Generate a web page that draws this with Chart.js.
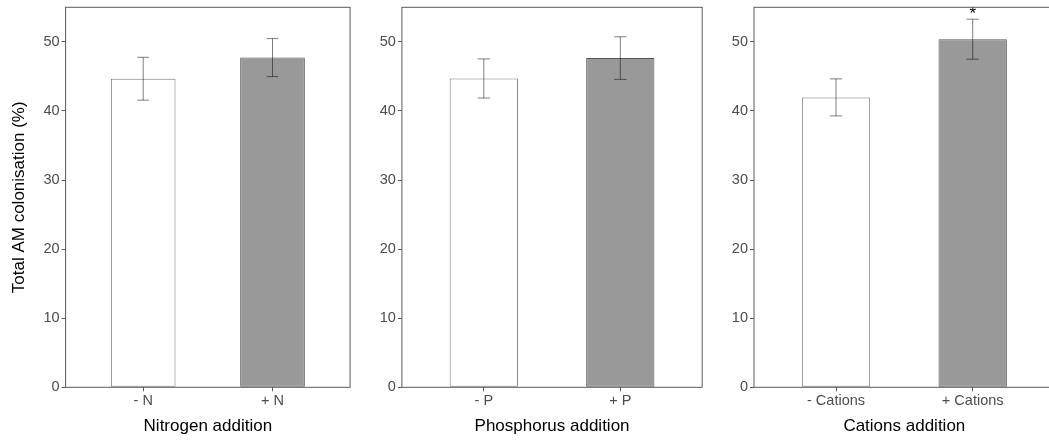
<!DOCTYPE html>
<html>
<head>
<meta charset="utf-8">
<script src="https://cdn.jsdelivr.net/npm/chart.js@4"></script>
<style>
  html, body { margin: 0; padding: 0; background: #fff; overflow: hidden; }
  body { width: 1049px; height: 443px; position: relative; }
  .pane { position: absolute; top: 0; height: 443px; }
</style>
</head>
<body>
<div class="pane" id="p1" style="left:0px;width:352px;"><canvas id="c1"></canvas></div>
<div class="pane" id="p2" style="left:352px;width:352px;"><canvas id="c2"></canvas></div>
<div class="pane" id="p3" style="left:704px;width:360px;"><canvas id="c3"></canvas></div>
<script>
// ---- data ----
const yTickValues = [0, 10, 20, 30, 40, 50];
const yAxisTitle = 'Total AM colonisation (%)';

const categoriesN = ['- N', '+ N'];
const meansN = [44.66, 47.72];
const errN = [3.1, 2.75];
const titleN = 'Nitrogen addition';
const sigN = ['', ''];

const categoriesP = ['- P', '+ P'];
const meansP = [44.7, 47.65];
const errP = [2.83, 3.08];
const titleP = 'Phosphorus addition';
const sigP = ['', ''];

const categoriesC = ['- Cations', '+ Cations'];
const meansC = [41.96, 50.38];
const errC = [2.68, 2.9];
const titleC = 'Cations addition';
const sigC = ['', '*'];

// ---- styles ----
const FONT = "'Liberation Sans', Arial, sans-serif";
const TICK_COLOR = '#4d4d4d';
const LINE_COLOR = '#5a5a5a';

const panelPlugin = {
  id: 'panelExtras',
  afterDatasetsDraw(chart, args, opts) {
    const ctx = chart.ctx;
    const xs = chart.scales.x, ys = chart.scales.y;
    const meta = chart.getDatasetMeta(0);
    ctx.save();
    ctx.strokeStyle = 'rgba(0,0,0,0.5)';
    ctx.lineWidth = 1;
    meta.data.forEach((el, i) => {
      const xv = i + 1;
      const m = opts.means[i], e = opts.errs[i];
      const px = el.x;
      const yt = ys.getPixelForValue(m + e);
      const yb = ys.getPixelForValue(m - e);
      const half = (xs.getPixelForValue(xv + 0.045) - xs.getPixelForValue(xv - 0.045)) / 2;
      ctx.beginPath();
      ctx.moveTo(px, yt); ctx.lineTo(px, yb);
      ctx.moveTo(px - half, yt); ctx.lineTo(px + half, yt);
      ctx.moveTo(px - half, yb); ctx.lineTo(px + half, yb);
      ctx.stroke();
      if (opts.sig[i]) {
        ctx.fillStyle = '#000';
        ctx.font = '17px ' + FONT;
        ctx.textAlign = 'center';
        ctx.textBaseline = 'alphabetic';
        ctx.fillText(opts.sig[i], px, yt - 0.5);
      }
    });
    const a = chart.chartArea;
    ctx.strokeStyle = LINE_COLOR;
    ctx.lineWidth = 1;
    ctx.strokeRect(a.left, a.top, a.right - a.left, a.bottom - a.top);
    ctx.restore();
  }
};

function makePanel(canvasId, cats, means, errs, sig, xTitle, yWidth, padRight, showYTitle) {
  const ctx = document.getElementById(canvasId);
  new Chart(ctx, {
    type: 'bar',
    data: {
      datasets: [{
        data: means.map((v, i) => ({ x: i + 1, y: v })),
        backgroundColor: ['#ffffff', '#999999'],
        borderColor: ['#7a7a7a', '#555555'],
        borderWidth: 1,
        borderSkipped: false,
        barPercentage: 0.5,
        categoryPercentage: 1.0
      }]
    },
    options: {
      responsive: true,
      maintainAspectRatio: false,
      animation: false,
      events: [],
      layout: { padding: { top: 7.3, right: padRight, bottom: 0, left: 0 } },
      plugins: {
        legend: { display: false },
        tooltip: { enabled: false },
        panelExtras: { means: means, errs: errs, sig: sig }
      },
      scales: {
        x: {
          type: 'linear',
          min: 0.4,
          max: 2.6,
          offset: false,
          afterBuildTicks(scale) { scale.ticks = cats.map((c, i) => ({ value: i + 1 })); },
          afterFit(scale) { scale.height = 55.7; scale.paddingLeft = 0; scale.paddingRight = 0; },
          grid: { display: true, offset: false, drawOnChartArea: false, drawTicks: true, tickLength: 4, color: LINE_COLOR, tickColor: LINE_COLOR },
          border: { display: false },
          ticks: {
            autoSkip: false,
            maxRotation: 0,
            padding: 1,
            color: TICK_COLOR,
            font: { family: FONT, size: 14.5 },
            callback: (v) => cats[Math.round(v) - 1]
          },
          title: {
            display: true,
            text: xTitle,
            color: '#000',
            font: { family: FONT, size: 17 },
            padding: { top: 0, bottom: 6 }
          }
        },
        y: {
          min: 0,
          max: 55,
          afterBuildTicks(scale) { scale.ticks = yTickValues.map(v => ({ value: v })); },
          afterFit(scale) { scale.width = yWidth; scale.paddingTop = 0; scale.paddingBottom = 0; },
          grid: { display: true, offset: false, drawOnChartArea: false, drawTicks: true, tickLength: 4, color: LINE_COLOR, tickColor: LINE_COLOR },
          border: { display: false },
          ticks: {
            padding: 2,
            color: TICK_COLOR,
            font: { family: FONT, size: 14.5 }
          },
          title: {
            display: showYTitle,
            text: yAxisTitle,
            color: '#000',
            font: { family: FONT, size: 17 },
            padding: { top: 9.5, bottom: 0 }
          }
        }
      }
    },
    plugins: [panelPlugin]
  });
}

makePanel('c1', categoriesN, meansN, errN, sigN, titleN, 65.6, 1.9, true);
makePanel('c2', categoriesP, meansP, errP, sigP, titleP, 49.9, 1.8, false);
makePanel('c3', categoriesC, meansC, errC, sigC, titleC, 50.0, 9.3, false);
</script>
</body>
</html>
